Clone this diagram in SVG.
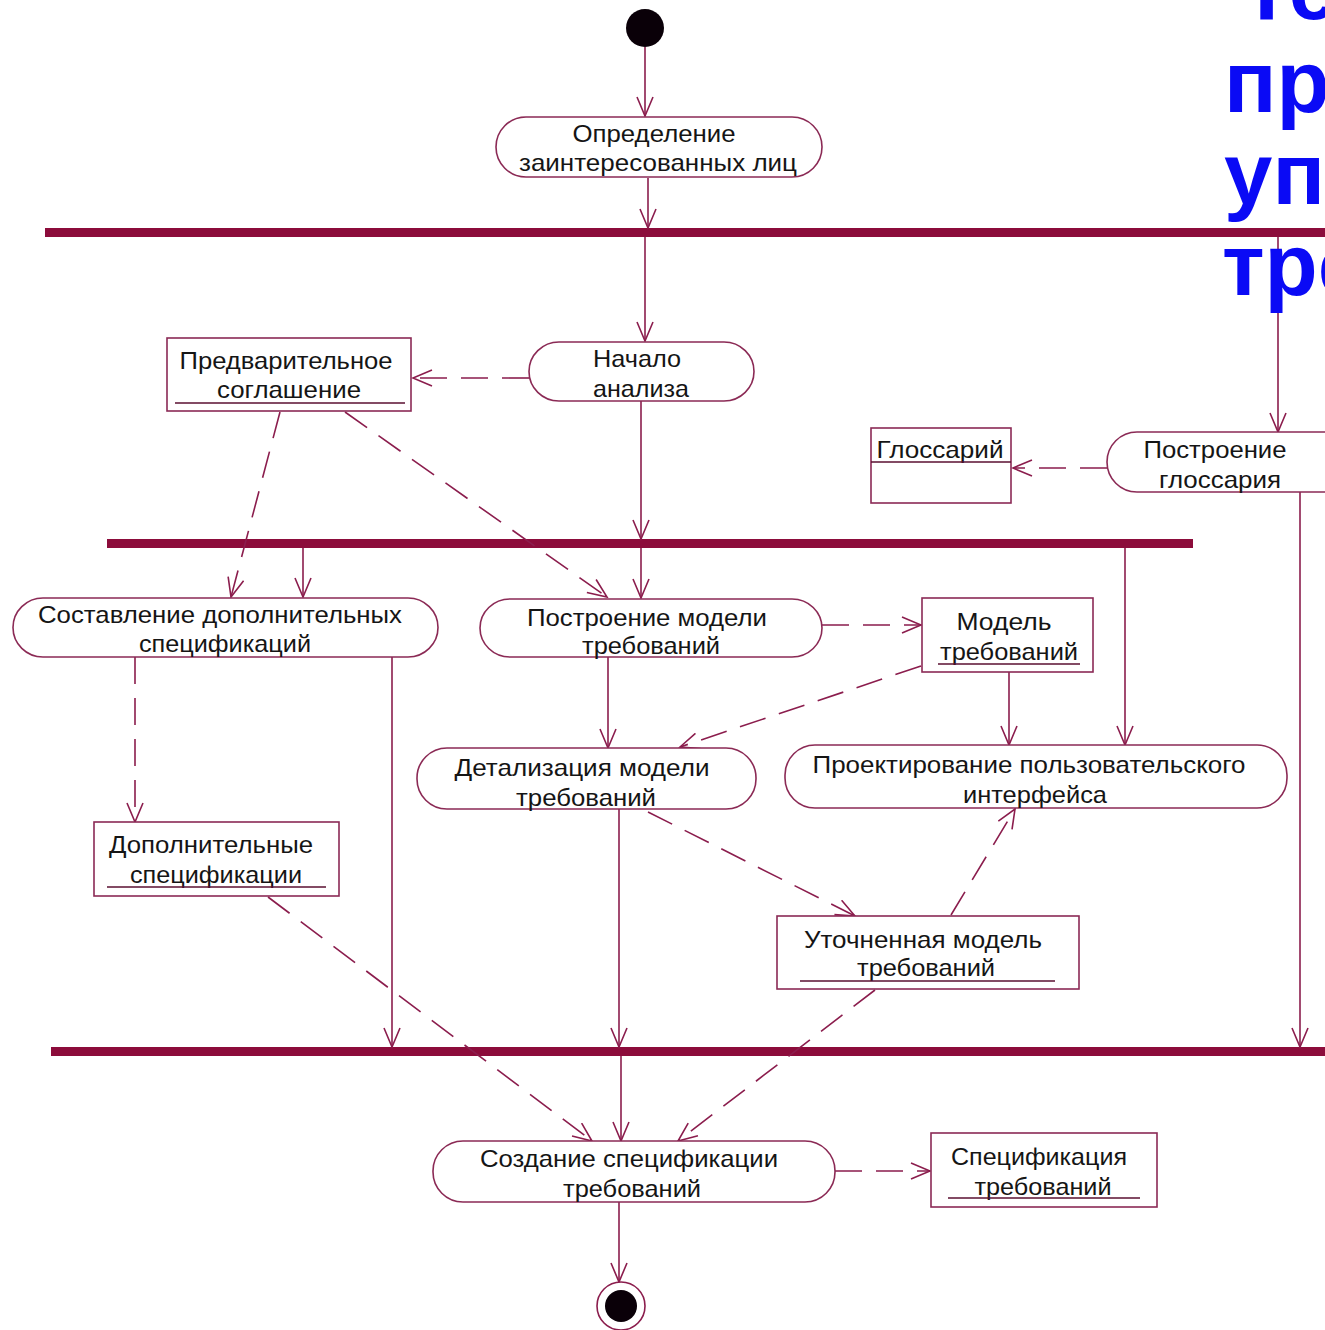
<svg xmlns="http://www.w3.org/2000/svg" width="1325" height="1330" viewBox="0 0 1325 1330">
<style>
.act{fill:#fff;stroke:#8b2a55;stroke-width:1.6}
.obj{fill:#fff;stroke:#8b2a55;stroke-width:1.6}
.bar{fill:#8c0c3b}
.t{font-family:"Liberation Sans",Arial,sans-serif;font-size:24px;fill:#151515;text-anchor:middle}
.ul{stroke:#5a0f30;stroke-width:1.6}
.c{fill:none;stroke:#8b1d4d;stroke-width:1.6}
.d{stroke-dasharray:27 14}
.title{font-family:"Liberation Sans",Arial,sans-serif;font-size:87px;font-weight:bold;fill:#0a0af5}
</style>
<defs>
<marker id="arr" markerUnits="userSpaceOnUse" markerWidth="22" markerHeight="18" viewBox="0 0 22 18" refX="20" refY="9" orient="auto">
<path d="M1,1 L20,9 L1,17" fill="none" stroke="#8b1d4d" stroke-width="1.6"/>
</marker>
</defs>

<g id="bars">
<rect id="fork1" class="bar" x="45" y="228" width="1290" height="9"/>
<rect id="fork2" class="bar" x="107" y="539" width="1086" height="9"/>
<rect id="join3" class="bar" x="51" y="1047" width="1284" height="9"/>
</g>

<g id="connectors">
<line class="c" x1="645" y1="47" x2="645" y2="116" marker-end="url(#arr)"/>
<line class="c" x1="648" y1="178" x2="648" y2="228" marker-end="url(#arr)"/>
<line class="c" x1="645" y1="237" x2="645" y2="341" marker-end="url(#arr)"/>
<line class="c" x1="1278" y1="237" x2="1278" y2="432" marker-end="url(#arr)"/>
<line class="c d" x1="529" y1="378" x2="413" y2="378" marker-end="url(#arr)"/>
<line class="c d" x1="1107" y1="468" x2="1013" y2="468" marker-end="url(#arr)"/>
<line class="c" x1="641" y1="401" x2="641" y2="539" marker-end="url(#arr)"/>
<line class="c" x1="1300" y1="492" x2="1300" y2="1047" marker-end="url(#arr)"/>
<line class="c d" x1="280" y1="412" x2="231" y2="597" marker-end="url(#arr)"/>
<line class="c d" x1="345" y1="412" x2="607" y2="597" marker-end="url(#arr)"/>
<line class="c" x1="303" y1="548" x2="303" y2="597" marker-end="url(#arr)"/>
<line class="c" x1="641" y1="548" x2="641" y2="598" marker-end="url(#arr)"/>
<line class="c" x1="1125" y1="548" x2="1125" y2="745" marker-end="url(#arr)"/>
<line class="c d" x1="822" y1="625" x2="921" y2="625" marker-end="url(#arr)"/>
<line class="c d" x1="921" y1="666" x2="680" y2="747" marker-end="url(#arr)"/>
<line class="c" x1="1009" y1="672" x2="1009" y2="745" marker-end="url(#arr)"/>
<line class="c" x1="608" y1="657" x2="608" y2="748" marker-end="url(#arr)"/>
<line class="c d" x1="135" y1="657" x2="135" y2="822" marker-end="url(#arr)"/>
<line class="c" x1="392" y1="657" x2="392" y2="1047" marker-end="url(#arr)"/>
<line class="c" x1="619" y1="809" x2="619" y2="1047" marker-end="url(#arr)"/>
<line class="c d" x1="648" y1="812" x2="855" y2="916" marker-end="url(#arr)"/>
<line class="c d" x1="951" y1="915" x2="1015" y2="809" marker-end="url(#arr)"/>
<line class="c d" x1="268" y1="897" x2="592" y2="1141" marker-end="url(#arr)"/>
<line class="c d" x1="875" y1="990" x2="678" y2="1141" marker-end="url(#arr)"/>
<line class="c" x1="621" y1="1056" x2="621" y2="1141" marker-end="url(#arr)"/>
<line class="c d" x1="835" y1="1171" x2="930" y2="1171" marker-end="url(#arr)"/>
<line class="c" x1="619" y1="1202" x2="619" y2="1282" marker-end="url(#arr)"/>
</g>

<g id="start"><circle cx="645" cy="28" r="19" fill="#0a0008"/></g>

<g id="a-stakeholders">
<rect class="act" x="496" y="117" width="326" height="60" rx="30" ry="30"/>
<text class="t" x="654" y="142" textLength="163" lengthAdjust="spacingAndGlyphs">Определение</text>
<text class="t" x="658" y="171" textLength="278" lengthAdjust="spacingAndGlyphs">заинтересованных лиц</text>
</g>

<g id="a-start-analysis">
<rect class="act" x="529" y="342" width="225" height="59" rx="30" ry="30"/>
<text class="t" x="637" y="367" textLength="88" lengthAdjust="spacingAndGlyphs">Начало</text>
<text class="t" x="641" y="397" textLength="96" lengthAdjust="spacingAndGlyphs">анализа</text>
</g>

<g id="o-preliminary">
<rect class="obj" x="167" y="338" width="244" height="73"/>
<text class="t" x="286" y="369" textLength="213" lengthAdjust="spacingAndGlyphs">Предварительное</text>
<text class="t" x="289" y="398" textLength="144" lengthAdjust="spacingAndGlyphs">соглашение</text>
<line class="ul" x1="175" y1="403" x2="405" y2="403"/>
</g>

<g id="o-glossary">
<rect class="obj" x="871" y="428" width="140" height="75"/>
<text class="t" x="940" y="458" textLength="127" lengthAdjust="spacingAndGlyphs">Глоссарий</text>
<line class="ul" x1="871" y1="462" x2="1011" y2="462"/>
</g>

<g id="a-glossary">
<rect class="act" x="1107" y="432" width="250" height="60" rx="30" ry="30"/>
<text class="t" x="1215" y="458" textLength="143" lengthAdjust="spacingAndGlyphs">Построение</text>
<text class="t" x="1220" y="488" textLength="122" lengthAdjust="spacingAndGlyphs">глоссария</text>
</g>

<g id="a-supp-specs">
<rect class="act" x="13" y="598" width="425" height="59" rx="30" ry="30"/>
<text class="t" x="220" y="623" textLength="364" lengthAdjust="spacingAndGlyphs">Составление дополнительных</text>
<text class="t" x="225" y="652" textLength="172" lengthAdjust="spacingAndGlyphs">спецификаций</text>
</g>

<g id="a-build-model">
<rect class="act" x="480" y="599" width="342" height="58" rx="30" ry="30"/>
<text class="t" x="647" y="626" textLength="240" lengthAdjust="spacingAndGlyphs">Построение модели</text>
<text class="t" x="651" y="654" textLength="138" lengthAdjust="spacingAndGlyphs">требований</text>
</g>

<g id="o-model">
<rect class="obj" x="922" y="598" width="171" height="74"/>
<text class="t" x="1004" y="630" textLength="95" lengthAdjust="spacingAndGlyphs">Модель</text>
<text class="t" x="1009" y="660" textLength="138" lengthAdjust="spacingAndGlyphs">требований</text>
<line class="ul" x1="938" y1="664" x2="1080" y2="664"/>
</g>

<g id="a-detail-model">
<rect class="act" x="417" y="748" width="339" height="61" rx="30" ry="30"/>
<text class="t" x="582" y="776" textLength="255" lengthAdjust="spacingAndGlyphs">Детализация модели</text>
<text class="t" x="586" y="806" textLength="140" lengthAdjust="spacingAndGlyphs">требований</text>
</g>

<g id="a-ui-design">
<rect class="act" x="785" y="745" width="502" height="63" rx="30" ry="30"/>
<text class="t" x="1029" y="773" textLength="433" lengthAdjust="spacingAndGlyphs">Проектирование пользовательского</text>
<text class="t" x="1035" y="803" textLength="144" lengthAdjust="spacingAndGlyphs">интерфейса</text>
</g>

<g id="o-supp-specs">
<rect class="obj" x="94" y="822" width="245" height="74"/>
<text class="t" x="211" y="853" textLength="204" lengthAdjust="spacingAndGlyphs">Дополнительные</text>
<text class="t" x="216" y="883" textLength="172" lengthAdjust="spacingAndGlyphs">спецификации</text>
<line class="ul" x1="107" y1="887" x2="326" y2="887"/>
</g>

<g id="o-refined-model">
<rect class="obj" x="777" y="916" width="302" height="73"/>
<text class="t" x="923" y="948" textLength="238" lengthAdjust="spacingAndGlyphs">Уточненная модель</text>
<text class="t" x="926" y="976" textLength="138" lengthAdjust="spacingAndGlyphs">требований</text>
<line class="ul" x1="800" y1="981" x2="1055" y2="981"/>
</g>

<g id="a-create-spec">
<rect class="act" x="433" y="1141" width="402" height="61" rx="30" ry="30"/>
<text class="t" x="629" y="1167" textLength="298" lengthAdjust="spacingAndGlyphs">Создание спецификации</text>
<text class="t" x="632" y="1197" textLength="138" lengthAdjust="spacingAndGlyphs">требований</text>
</g>

<g id="o-spec">
<rect class="obj" x="931" y="1133" width="226" height="74"/>
<text class="t" x="1039" y="1165" textLength="176" lengthAdjust="spacingAndGlyphs">Спецификация</text>
<text class="t" x="1043" y="1195" textLength="137" lengthAdjust="spacingAndGlyphs">требований</text>
<line class="ul" x1="948" y1="1198" x2="1140" y2="1198"/>
</g>

<g id="end">
<circle cx="621" cy="1306" r="24" fill="#fff" stroke="#8b1d4d" stroke-width="1.6"/>
<circle cx="621" cy="1306" r="16" fill="#0a0008"/>
</g>

<g id="title">
<text class="title" x="1240" y="19">Тех</text>
<text class="title" x="1224" y="112">пр</text>
<text class="title" x="1224" y="204">уп</text>
<text class="title" x="1222" y="295">тре</text>
</g>
</svg>
